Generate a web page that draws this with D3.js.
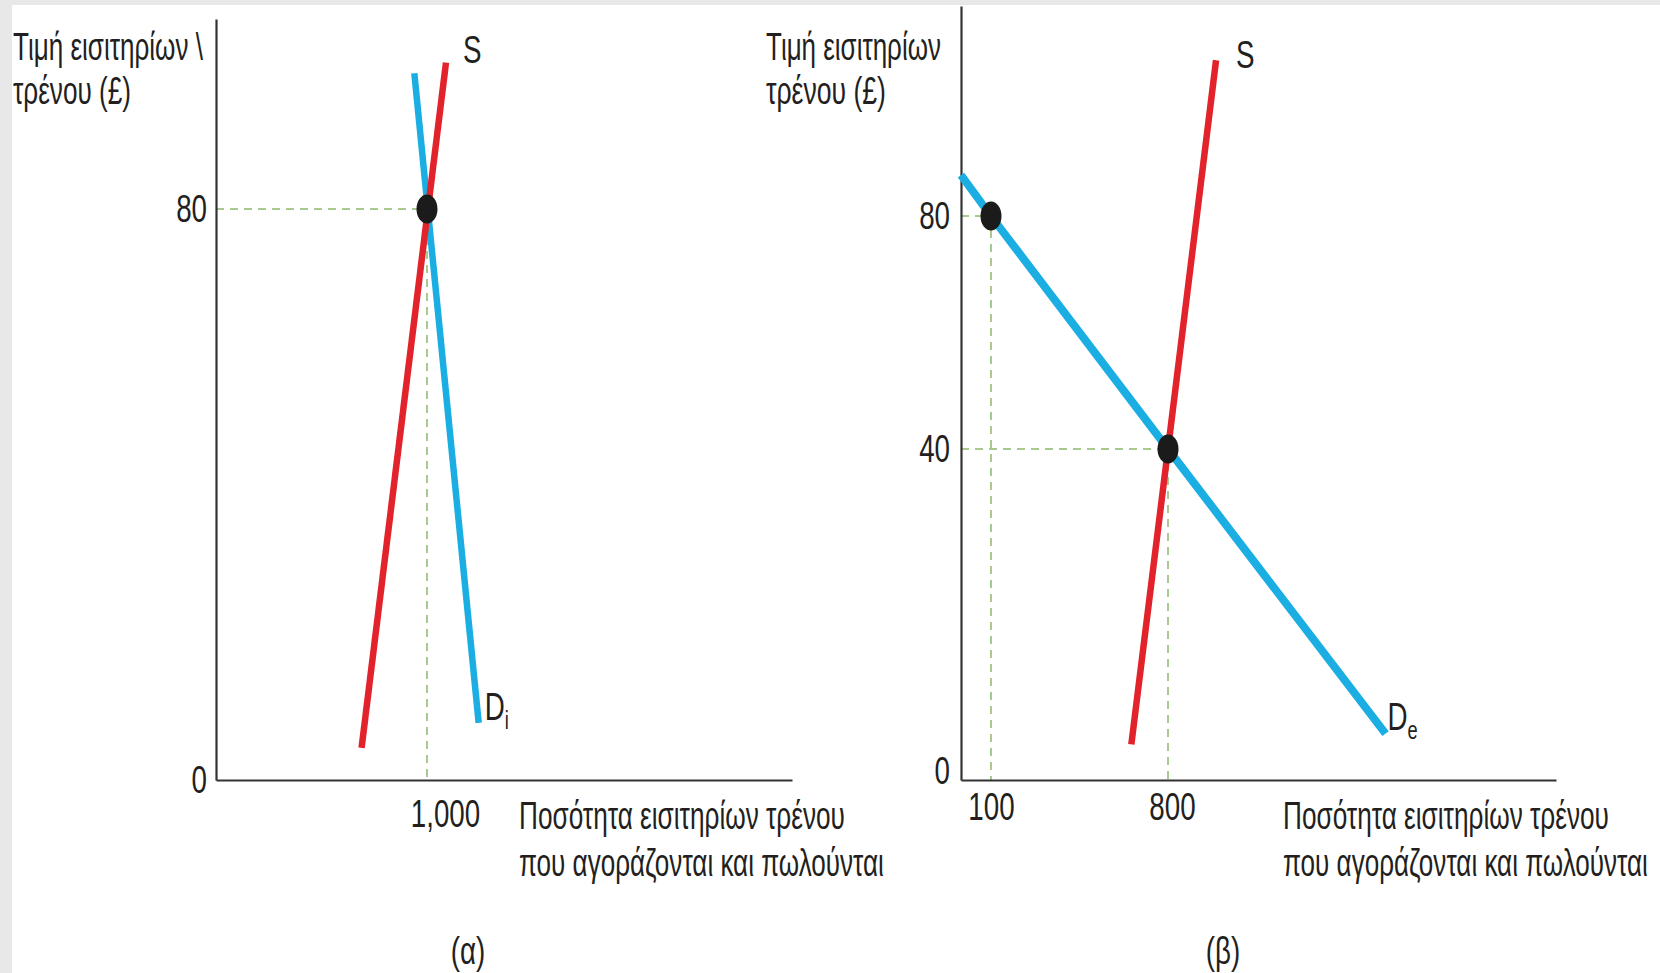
<!DOCTYPE html>
<html>
<head>
<meta charset="utf-8">
<script src="https://cdn.jsdelivr.net/npm/d3@7"></script>
<style>
body { margin: 0; background: #fff; }
text { font-family: "Liberation Sans", Arial, sans-serif; fill: #231f20; }
</style>
</head>
<body>
<script>
// panel (α): inelastic demand
var yTicksA = [0, 80];
var xTicksA = [1000];
var supplyA = [[690, 4.5], [1090, 100.5]];
var demandA = [[940, 99], [1245, 8]];
var pointsA = [[1000, 80]];

// panel (β): elastic demand
var yTicksB = [0, 40, 80];
var xTicksB = [100, 800];
var supplyB = [[655, 4.3], [800, 40], [990, 106.7]];
var demandB = [[0, 87], [100, 80], [800, 40], [1660, 5.6]];
var pointsB = [[100, 80], [800, 40]];

var yTitleA = ["Τιμή εισιτηρίων \\", "τρένου (£)"];
var yTitleB = ["Τιμή εισιτηρίων", "τρένου (£)"];
var xTitle = ["Ποσότητα εισιτηρίων τρένου", "που αγοράζονται και πωλούνται"];

var red = "#e2232b", blue = "#1aaee3", guide = "#a9c98f";
var fontSize = 38, squeeze = 0.73;

var svg = d3.select("body").append("svg")
    .attr("width", 1660)
    .attr("height", 973);

svg.append("rect").attr("width", 1660).attr("height", 973).attr("fill", "#e8e8e8");
svg.append("rect").attr("x", 12).attr("y", 5).attr("width", 1648).attr("height", 968).attr("fill", "#fff");

// squeeze text horizontally (by a factor or to a fixed width) with a transform
function condense(sel, w) {
    sel.each(function() {
        var t = d3.select(this);
        var k = w ? w / this.getComputedTextLength() : squeeze;
        var x = +t.attr("x") || 0, y = +t.attr("y") || 0, dx = +t.attr("dx") || 0;
        t.attr("x", null).attr("y", null).attr("dx", null)
            .attr("transform", "translate(" + (x + dx) + "," + y + ") scale(" + k + ",1)");
    });
}

function label(g, txt, x, y, anchor, w) {
    var t = g.append("text")
        .attr("x", x).attr("y", y)
        .attr("text-anchor", anchor || "start")
        .attr("font-size", fontSize)
        .text(txt);
    condense(t, w);
    return t;
}

function drawPanel(o) {
    var g = svg.append("g");
    var x = o.x, y = o.y;
    var line = d3.line().x(function(d) { return x(d[0]); }).y(function(d) { return y(d[1]); });

    // dashed guides to the axes
    o.points.forEach(function(p) {
        g.append("line")
            .attr("x1", x(0)).attr("x2", x(p[0]))
            .attr("y1", y(p[1])).attr("y2", y(p[1]))
            .attr("stroke", guide).attr("stroke-width", 2).attr("stroke-dasharray", "8,6");
        g.append("line")
            .attr("x1", x(p[0])).attr("x2", x(p[0]))
            .attr("y1", y(p[1])).attr("y2", y(0))
            .attr("stroke", guide).attr("stroke-width", 2).attr("stroke-dasharray", "8,6");
    });

    // axes
    var ax = g.append("g")
        .attr("transform", "translate(0," + y(0) + ")")
        .call(d3.axisBottom(x).tickValues(o.xTicks).tickSize(0).tickSizeOuter(0)
            .tickPadding(o.xPad).tickFormat(d3.format(",")));
    var ay = g.append("g")
        .attr("transform", "translate(" + x(0) + ",0)")
        .call(d3.axisLeft(y).tickValues(o.yTicks).tickSize(0).tickSizeOuter(0).tickPadding(o.yPad));

    [ax, ay].forEach(function(a) {
        a.select(".domain").attr("stroke", "#333").attr("stroke-width", 2.2);
        a.selectAll("text").attr("font-size", fontSize);
    });
    ax.selectAll("text").attr("dx", function(d) { return o.xShift(d); });
    ay.selectAll("text").attr("dy", function(d) { return d === 0 ? o.zeroDy : "0.32em"; });
    condense(ax.selectAll("text"));
    condense(ay.selectAll("text"));

    // curves
    g.append("path").datum(o.demand).attr("d", line)
        .attr("fill", "none").attr("stroke", blue).attr("stroke-width", o.blueW);
    g.append("path").datum(o.supply).attr("d", line)
        .attr("fill", "none").attr("stroke", red).attr("stroke-width", 6.5);

    g.selectAll(".dot").data(o.points).enter().append("ellipse")
        .attr("cx", function(d) { return x(d[0]); })
        .attr("cy", function(d) { return y(d[1]); })
        .attr("rx", 10.5).attr("ry", 14.5)
        .attr("fill", "#1b1b1b");

    // curve names
    var sTop = o.supply[o.supply.length - 1];
    label(g, "S", x(sTop[0]) + o.sOff[0], y(sTop[1]) + o.sOff[1]);
    var dEnd = o.demand[o.demand.length - 1];
    var dl = g.append("text")
        .attr("x", x(dEnd[0]) + o.dOff[0]).attr("y", y(dEnd[1]) + o.dOff[1])
        .attr("font-size", fontSize);
    dl.append("tspan").text("D");
    dl.append("tspan").attr("font-size", 25).attr("dy", 9).text(o.sub);
    condense(dl);

    // titles
    label(g, o.yTitle[0], o.yTitleX, 60, "start", o.yTitleW[0]);
    label(g, o.yTitle[1], o.yTitleX, 104, "start", o.yTitleW[1]);
    label(g, xTitle[0], o.xTitleX, 829, "start", 326);
    label(g, xTitle[1], o.xTitleX, 876, "start", 365);
    label(g, o.name, o.nameX, 964, "middle");
}

drawPanel({
    x: d3.scaleLinear().domain([0, 2730]).range([216, 792]),
    y: d3.scaleLinear().domain([0, 106.6]).range([780, 19]),
    xTicks: xTicksA, yTicks: yTicksA,
    supply: supplyA, demand: demandA, points: pointsA,
    xPad: 20, yPad: 9, zeroDy: "0.32em",
    xShift: function() { return 18; },
    blueW: 6.5,
    sOff: [17, 0], dOff: [6, -3], sub: "i",
    yTitle: yTitleA, yTitleX: 13, yTitleW: [190, 118],
    xTitleX: 519, name: "(α)", nameX: 468
});

drawPanel({
    x: d3.scaleLinear().domain([0, 100, 800, 2334]).range([961, 991, 1168, 1556]),
    y: d3.scaleLinear().domain([0, 40, 80, 116]).range([780, 449, 216, 6]),
    xTicks: xTicksB, yTicks: yTicksB,
    supply: supplyB, demand: demandB, points: pointsB,
    xPad: 13, yPad: 11, zeroDy: "0.1em",
    xShift: function(d) { return d === 800 ? 4 : 0; },
    blueW: 8,
    sOff: [20, 8], dOff: [2, -4], sub: "e",
    yTitle: yTitleB, yTitleX: 766, yTitleW: [175, 120],
    xTitleX: 1283, name: "(β)", nameX: 1223
});
</script>
</body>
</html>
